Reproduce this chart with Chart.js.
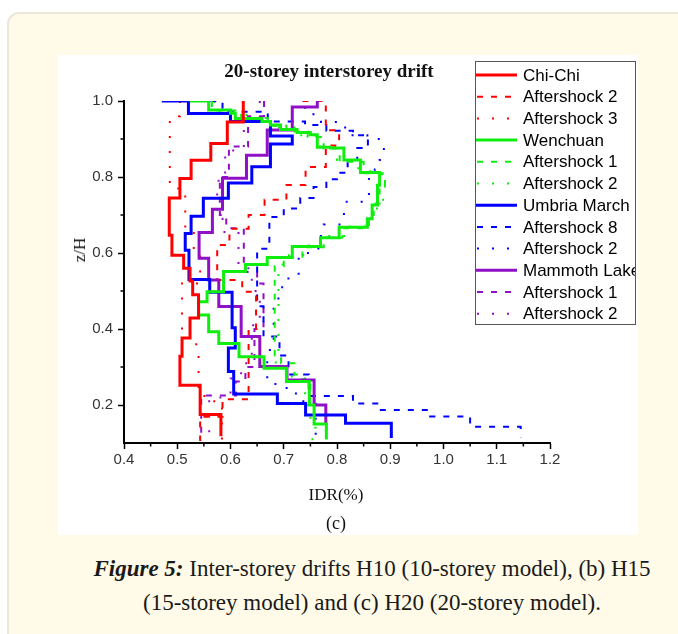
<!DOCTYPE html>
<html>
<head>
<meta charset="utf-8">
<script src="https://cdn.jsdelivr.net/npm/chart.js@4.4.1/dist/chart.umd.min.js"></script>
<style>
    html, body { margin: 0; padding: 0; width: 678px; height: 634px; overflow: hidden; background: #fff; }
    .card {
        position: absolute; left: 7px; top: 12px; width: 760px; height: 700px;
        background: #fffbe8; border: 2px solid #ebe8da; border-radius: 12px; box-sizing: border-box;
    }
    .figure { position: absolute; left: 58px; top: 55px; width: 580px; height: 480px; background: #fff; }
    #chart { position: absolute; left: 0; top: 0; }
    .lbl {
        position: absolute; transform: translate(-50%, -50%); white-space: nowrap;
        font-family: 'Liberation Serif', serif; color: #111;
    }
    .caption {
        position: absolute; left: 0; top: 552px; width: 744px; text-align: center;
        font-family: 'Liberation Serif', serif; font-size: 23px; line-height: 34px; color: #1a1a1a;
    }
</style>
</head>
<body>
<div class="card"></div>
<div class="figure">
    <canvas id="chart" width="580" height="480"></canvas>
    <div class="lbl" style="left:271px; top:16px; font-size:19px; font-weight:bold;">20-storey interstorey drift</div>
    <div class="lbl" style="left:22px; top:195px; font-size:17px; transform: translate(-50%, -50%) rotate(-90deg);">z/H</div>
    <div class="lbl" style="left:278px; top:440px; font-size:17px;">IDR(%)</div>
    <div class="lbl" style="left:278px; top:468px; font-size:18px;">(c)</div>
</div>
<div class="caption"><b><i>Figure 5:</i></b> Inter-storey drifts H10 (10-storey model), (b) H15<br>(15-storey model) and (c) H20 (20-storey model).</div>

<script>
// each profile: [z/H at top of the step, IDR (%)] going down the building
const chiChi = [[1.0, 0.624], [0.945, 0.594], [0.888, 0.563], [0.844, 0.526], [0.796, 0.505], [0.745, 0.485],
    [0.647, 0.490], [0.594, 0.512], [0.56, 0.524], [0.526, 0.529], [0.49, 0.540], [0.429, 0.524],
    [0.376, 0.509], [0.328, 0.505], [0.252, 0.543], [0.175, 0.582]];
const chiChiAs2 = [[1.0, 0.735], [1.0, 0.779], [0.923, 0.804], [0.883, 0.779], [0.826, 0.741], [0.779, 0.705],
    [0.74, 0.664], [0.70, 0.634], [0.664, 0.598], [0.621, 0.575], [0.529, 0.622], [0.498, 0.648],
    [0.40, 0.634], [0.215, 0.585], [0.169, 0.543]];
const chiChiAs3 = [[1.0, 0.505], [0.96, 0.486], [0.77, 0.515], [0.665, 0.531], [0.60, 0.543], [0.52, 0.509],
    [0.36, 0.54], [0.24, 0.551], [0.21, 0.584]];

const wenchuan = [[1.0, 0.524], [1.0, 0.559], [0.976, 0.60], [0.968, 0.609], [0.954, 0.659], [0.946, 0.675],
    [0.937, 0.694], [0.925, 0.725], [0.917, 0.75], [0.911, 0.763], [0.878, 0.788], [0.876, 0.813],
    [0.845, 0.844], [0.812, 0.88], [0.778, 0.876], [0.726, 0.866], [0.69, 0.857], [0.668, 0.804],
    [0.64, 0.769], [0.617, 0.716], [0.588, 0.669], [0.57, 0.628], [0.551, 0.587], [0.498, 0.556],
    [0.472, 0.540], [0.437, 0.559], [0.393, 0.578], [0.362, 0.616], [0.327, 0.663], [0.297, 0.705],
    [0.262, 0.748], [0.20, 0.757], [0.15, 0.78]];
const wenchuanAs1 = [[1.0, 0.565], [0.975, 0.62], [0.955, 0.67], [0.935, 0.705], [0.92, 0.745], [0.905, 0.775],
    [0.875, 0.805], [0.84, 0.85], [0.81, 0.89], [0.775, 0.88], [0.73, 0.869], [0.70, 0.86], [0.665, 0.81],
    [0.64, 0.775], [0.615, 0.735], [0.59, 0.70], [0.565, 0.683], [0.33, 0.695], [0.31, 0.72],
    [0.28, 0.735], [0.262, 0.75], [0.20, 0.757], [0.15, 0.78]];
const wenchuanAs2 = [[1.0, 0.57], [0.97, 0.63], [0.945, 0.68], [0.93, 0.72], [0.91, 0.76], [0.88, 0.80],
    [0.845, 0.84], [0.815, 0.885], [0.78, 0.89], [0.74, 0.875], [0.705, 0.865], [0.67, 0.82],
    [0.645, 0.78], [0.62, 0.74], [0.595, 0.71], [0.57, 0.69], [0.34, 0.685], [0.30, 0.715],
    [0.27, 0.74], [0.20, 0.75], [0.14, 0.76], [0.11, 0.735]];

const umbria = [[1.0, 0.471], [1.0, 0.521], [0.967, 0.600], [0.946, 0.675], [0.908, 0.716], [0.887, 0.675],
    [0.827, 0.640], [0.784, 0.596], [0.744, 0.549], [0.697, 0.526], [0.651, 0.515], [0.607, 0.522],
    [0.53, 0.561], [0.497, 0.603], [0.403, 0.609], [0.350, 0.596], [0.288, 0.606], [0.229, 0.688],
    [0.204, 0.741], [0.174, 0.816], [0.152, 0.902]];
const umbriaAs8 = [[1.0, 0.562], [1.0, 0.585], [0.972, 0.67], [0.946, 0.74], [0.937, 0.78], [0.922, 0.83],
    [0.91, 0.858], [0.876, 0.838], [0.845, 0.82], [0.811, 0.80], [0.794, 0.78], [0.774, 0.756],
    [0.745, 0.731], [0.717, 0.70], [0.695, 0.673], [0.611, 0.65], [0.46, 0.662], [0.38, 0.692],
    [0.33, 0.709], [0.28, 0.747], [0.224, 0.83], [0.204, 0.88], [0.187, 0.975], [0.17, 1.05],
    [0.143, 1.145]];
const umbriaAs2 = [[0.985, 0.74], [0.965, 0.77], [0.945, 0.807], [0.93, 0.825], [0.91, 0.857], [0.9, 0.888],
    [0.845, 0.88], [0.82, 0.871], [0.795, 0.86], [0.735, 0.813], [0.675, 0.775], [0.645, 0.765],
    [0.60, 0.728], [0.533, 0.70], [0.51, 0.69], [0.46, 0.681], [0.345, 0.669], [0.27, 0.68],
    [0.255, 0.692], [0.245, 0.71], [0.23, 0.725], [0.21, 0.76]];

const mammoth = [[1.0, 0.763], [0.984, 0.716], [0.924, 0.669], [0.857, 0.630], [0.797, 0.585], [0.715, 0.566],
    [0.654, 0.541], [0.586, 0.559], [0.529, 0.578], [0.459, 0.620], [0.380, 0.655], [0.301, 0.706],
    [0.266, 0.757], [0.20, 0.779]];
const mammothAs1 = [[1.0, 0.663], [0.96, 0.633], [0.88, 0.597], [0.80, 0.58], [0.70, 0.592], [0.665, 0.625],
    [0.55, 0.65], [0.52, 0.662], [0.40, 0.645], [0.30, 0.628], [0.262, 0.61], [0.225, 0.545]];
const mammothAs2 = [[1.0, 0.655], [0.95, 0.625], [0.87, 0.59], [0.79, 0.575], [0.69, 0.585], [0.655, 0.615],
    [0.56, 0.64], [0.50, 0.655], [0.41, 0.64], [0.31, 0.62], [0.27, 0.60], [0.22, 0.56]];

// z/H where each profile stops at the bottom
const bottomZ = [0.118, 0.105, 0.105, 0.11, 0.11, 0.105, 0.113, 0.115, 0.11, 0.148, 0.105, 0.105];

const seriesLabels = ['Chi-Chi', 'Aftershock 2', 'Aftershock 3', 'Wenchuan', 'Aftershock 1', 'Aftershock 2',
    'Umbria March', 'Aftershock 8', 'Aftershock 2', 'Mammoth Lakes', 'Aftershock 1', 'Aftershock 2'];

const xMinorTicks = [0.45, 0.55, 0.65, 0.75, 0.85, 0.95, 1.05, 1.15];
const yMajorTicks = [0.2, 0.4, 0.6, 0.8, 1.0];
const yMinorTicks = [0.3, 0.5, 0.7, 0.9];

const profiles = [chiChi, chiChiAs2, chiChiAs3, wenchuan, wenchuanAs1, wenchuanAs2,
    umbria, umbriaAs8, umbriaAs2, mammoth, mammothAs1, mammothAs2];

const groupColors = ['#ff0000', '#10ee10', '#0000ff', '#9010c8'];
const dashes = { solid: [], dashed: [6, 8], dotted: [2, 13] };
const kinds = ['solid', 'dashed', 'dotted'];

// turn a storey profile into a staircase: vertical at each IDR, horizontal between storeys
function toSteps(profile, zBottom) {
    const pts = [];
    profile.forEach(([zTop, idr], i) => {
        const zLow = i < profile.length - 1 ? profile[i + 1][0] : zBottom;
        pts.push({ x: idr, y: zTop }, { x: idr, y: zLow });
    });
    return pts;
}

const datasets = profiles.map((p, i) => {
    const kind = kinds[i % 3];
    return {
        label: seriesLabels[i],
        data: toSteps(p, bottomZ[i]),
        showLine: true,
        borderColor: groupColors[Math.floor(i / 3)],
        borderWidth: kind === 'solid' ? 3 : 2,
        borderDash: dashes[kind],
        borderCapStyle: 'butt',
        borderJoinStyle: 'miter',
        pointRadius: 0,
        fill: false,
        tension: 0,
        order: i % 3
    };
});

// small ticks between the labelled ones
const minorTicks = {
    id: 'minorTicks',
    afterDraw(chart) {
        const { ctx, scales: { x, y } } = chart;
        ctx.save();
        ctx.strokeStyle = '#000';
        ctx.lineWidth = 1.5;
        ctx.beginPath();
        xMinorTicks.forEach(v => {
            const px = x.getPixelForValue(v);
            ctx.moveTo(px, x.top);
            ctx.lineTo(px, x.top + 3.5);
        });
        yMinorTicks.forEach(v => {
            const py = y.getPixelForValue(v);
            ctx.moveTo(y.right, py);
            ctx.lineTo(y.right - 3.5, py);
        });
        ctx.stroke();
        ctx.restore();
    }
};

// legend box sitting over the upper right of the plot
const boxLegend = {
    id: 'boxLegend',
    afterDraw(chart) {
        const ctx = chart.ctx;
        const left = 417, top = 6, w = 160, h = 263, rowH = 21.7;
        ctx.save();
        ctx.fillStyle = '#fff';
        ctx.fillRect(left, top, w, h);
        ctx.beginPath();
        ctx.rect(left, top, w, h);
        ctx.clip();
        chart.data.datasets.forEach((ds, i) => {
            const cy = top + 14 + i * rowH;
            ctx.strokeStyle = ds.borderColor;
            ctx.lineWidth = ds.borderWidth;
            ctx.setLineDash(ds.borderDash);
            ctx.lineDashOffset = ds.borderDash.length ? -2 : 0;
            ctx.beginPath();
            ctx.moveTo(left, cy);
            ctx.lineTo(left + 42, cy);
            ctx.stroke();
            ctx.setLineDash([]);
            ctx.fillStyle = '#000';
            ctx.font = '17px "Liberation Sans", Arial, sans-serif';
            ctx.textBaseline = 'middle';
            ctx.fillText(ds.label, left + 48, cy + 1);
        });
        ctx.restore();
        ctx.strokeStyle = '#555';
        ctx.lineWidth = 1;
        ctx.strokeRect(left + 0.5, top + 0.5, w, h);
    }
};

const tickFont = { family: 'Liberation Sans', size: 15 };

const ctx = document.getElementById('chart').getContext('2d');
const myChart = new Chart(ctx, {
    type: 'scatter',
    data: { datasets: datasets },
    options: {
        responsive: false,
        animation: false,
        layout: { padding: { left: 0, right: 88, top: 46, bottom: 0 } },
        plugins: {
            legend: { display: false },
            tooltip: { enabled: false },
            title: { display: false }
        },
        scales: {
            x: {
                type: 'linear',
                min: 0.4,
                max: 1.2,
                afterFit: (s) => { s.height = 92; },
                border: { display: true, color: '#000', width: 2 },
                grid: { display: true, drawOnChartArea: false, drawTicks: true, tickLength: 6, tickWidth: 1.5, tickColor: '#000' },
                ticks: {
                    stepSize: 0.1,
                    padding: 2,
                    color: '#333',
                    font: tickFont,
                    maxRotation: 0,
                    autoSkip: false,
                    callback: (v) => v.toFixed(1)
                }
            },
            y: {
                type: 'linear',
                min: 0.1,
                max: 1.0,
                afterFit: (s) => { s.width = 66; },
                afterBuildTicks: (s) => { s.ticks = yMajorTicks.map(v => ({ value: v })); },
                border: { display: true, color: '#000', width: 2 },
                grid: { display: true, drawOnChartArea: false, drawTicks: true, tickLength: 6, tickWidth: 1.5, tickColor: '#000' },
                ticks: {
                    padding: 5,
                    color: '#333',
                    font: tickFont,
                    callback: (v) => Number(v).toFixed(1)
                }
            }
        }
    },
    plugins: [minorTicks, boxLegend]
});
</script>
</body>
</html>
